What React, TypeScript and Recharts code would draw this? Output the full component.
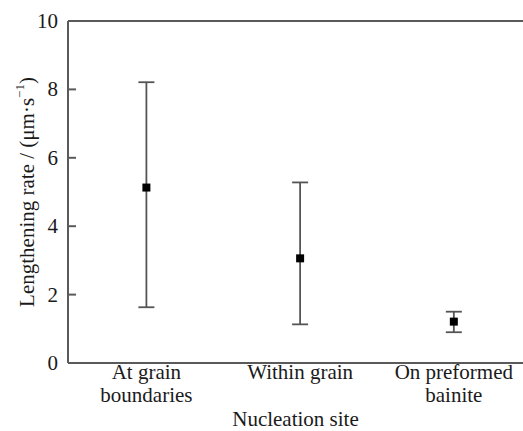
import React from 'react';
import {
  ComposedChart,
  Scatter,
  ErrorBar,
  XAxis,
  YAxis,
  ReferenceLine,
  Label,
} from 'recharts';

const categoryLines: string[][] = [
  ['At grain', 'boundaries'],
  ['Within grain'],
  ['On preformed', 'bainite'],
];
const sitePos = [1, 2, 3];
const meanRate = [5.13, 3.06, 1.21];
const lowRate = [1.63, 1.13, 0.9];
const highRate = [8.21, 5.28, 1.5];
const yTicks = [0, 2, 4, 6, 8, 10];

const X_DOMAIN: [number, number] = [0.49, 3.45];
const FONT = '"Liberation Serif", "Times New Roman", serif';
const AXIS = '#5a5a5a';
const INK = '#1a1a1a';

const chartData = sitePos.map((pos, i) => ({
  pos,
  rate: meanRate[i],
  err: [meanRate[i] - lowRate[i], highRate[i] - meanRate[i]],
}));

// tick mark points into the plot, number sits left of the axis
const YTick = (props: any) => {
  const { x, y, payload } = props;
  return (
    <g>
      <rect x={x} y={y - 1} width={8} height={2} fill={AXIS} />
      <text x={x - 10} y={y} dy={7} textAnchor="end" fontFamily={FONT} fontSize={21} fill={INK}>
        {payload.value}
      </text>
    </g>
  );
};

const XTick = (props: any) => {
  const { x, y, payload } = props;
  const lines = categoryLines[sitePos.indexOf(payload.value)] || [];
  return (
    <text x={x} y={y} textAnchor="middle" fontFamily={FONT} fontSize={21} fill={INK}>
      {lines.map((ln, i) => (
        <tspan key={i} x={x} dy={i === 0 ? 16 : 23}>
          {ln}
        </tspan>
      ))}
    </text>
  );
};

const YTitle = (props: any) => {
  const { viewBox } = props;
  const cx = 27;
  const cy = viewBox.y + viewBox.height / 2;
  return (
    <text
      x={cx}
      y={cy}
      transform={`rotate(-90 ${cx} ${cy})`}
      textAnchor="middle"
      dominantBaseline="central"
      fontFamily={FONT}
      fontSize={21}
      fill={INK}
    >
      Lengthening rate / (μm·s
      <tspan baselineShift="super" fontSize={13}>−1</tspan>)
    </text>
  );
};

const XTitle = (props: any) => {
  const { viewBox } = props;
  return (
    <text
      x={viewBox.x + viewBox.width / 2}
      y={426}
      textAnchor="middle"
      fontFamily={FONT}
      fontSize={21}
      fill={INK}
    >
      Nucleation site
    </text>
  );
};

export default function App() {
  return (
    <div style={{ position: 'absolute', left: 0, top: 0, width: 523, height: 431, background: '#fff' }}>
      <ComposedChart width={523} height={431} data={chartData} margin={{ top: 21, right: 0, bottom: 0, left: 0 }}>
        <XAxis
          dataKey="pos"
          type="number"
          domain={X_DOMAIN}
          ticks={sitePos}
          tickLine={false}
          tickSize={0}
          tickMargin={0}
          tick={<XTick />}
          height={68}
          stroke={AXIS}
          strokeWidth={2}
          allowDataOverflow
        >
          <Label content={<XTitle />} />
        </XAxis>
        <YAxis
          dataKey="rate"
          type="number"
          domain={[0, 10]}
          ticks={yTicks}
          tickLine={false}
          tickSize={0}
          tickMargin={0}
          tick={<YTick />}
          width={68}
          stroke={AXIS}
          strokeWidth={2}
          allowDataOverflow
        >
          <Label content={<YTitle />} />
        </YAxis>
        <ReferenceLine y={10} stroke={AXIS} strokeWidth={2} />
        <Scatter dataKey="rate" fill="#000" shape="square" isAnimationActive={false}>
          <ErrorBar dataKey="err" direction="y" width={8} stroke="#555" strokeWidth={1.8} />
        </Scatter>
      </ComposedChart>
    </div>
  );
}
